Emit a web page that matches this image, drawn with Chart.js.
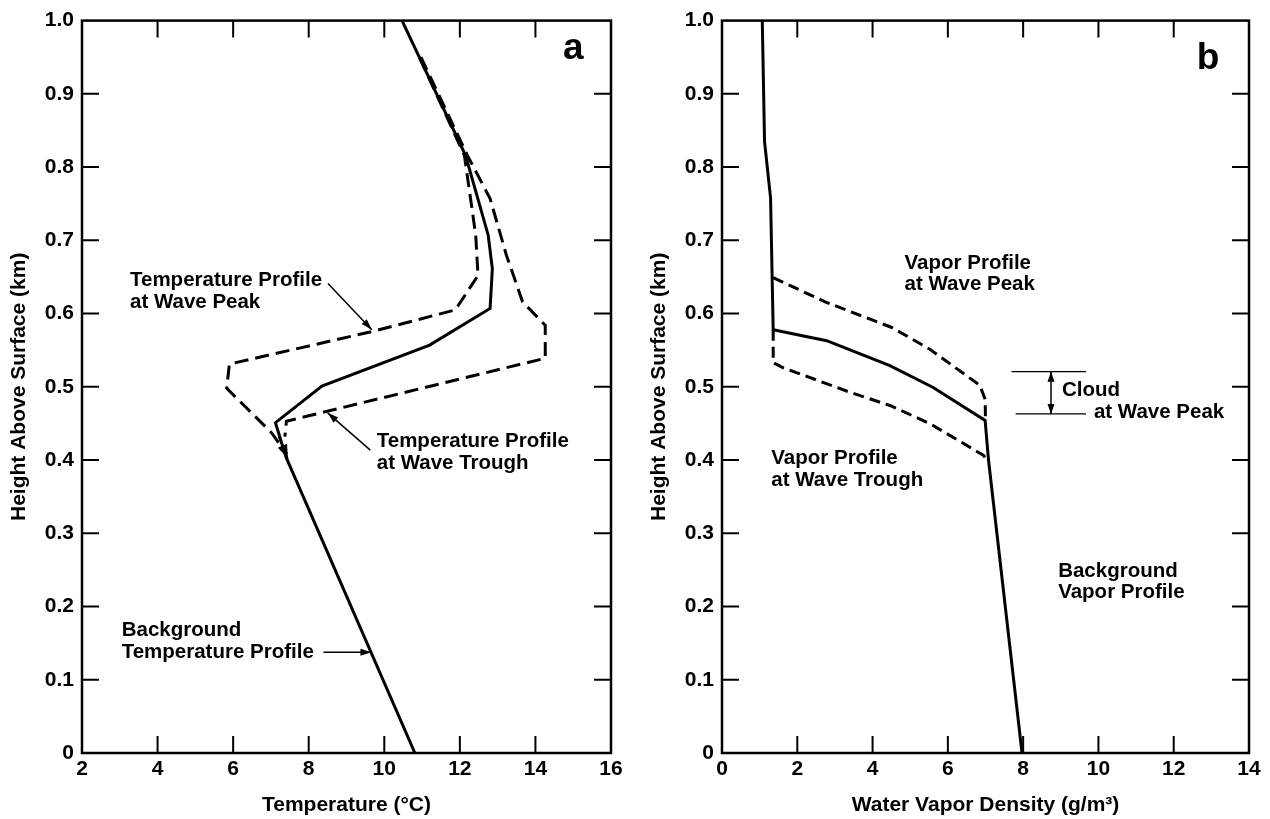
<!DOCTYPE html>
<html><head><meta charset="utf-8">
<script src="https://cdn.jsdelivr.net/npm/chart.js@4.4.1/dist/chart.umd.min.js"></script>
<style>
html,body{margin:0;padding:0;background:#fff;}
#wrap{position:relative;width:1270px;height:819px;overflow:hidden;}
.box{position:absolute;top:0;height:819px;}
</style></head><body>
<div id="wrap">
<div class="box" style="left:0;width:640px"><canvas id="cA" width="640" height="819"></canvas></div>
<div class="box" style="left:640px;width:630px"><canvas id="cB" width="630" height="819"></canvas></div>
</div>
<script>
// ---------- Panel a: temperature (°C) vs height (km) ----------
const tempTicksX = [2, 4, 6, 8, 10, 12, 14, 16];
const heightTicks = [0, 0.1, 0.2, 0.3, 0.4, 0.5, 0.6, 0.7, 0.8, 0.9, 1.0];

const tempSolid     = [10.81, 7.40, 7.12, 8.35, 11.2, 12.8, 12.86, 12.75, 12.15, 10.47];
const heightSolidA  = [0, 0.404, 0.451, 0.501, 0.557, 0.607, 0.661, 0.707, 0.816, 1.0];

const tempPeak      = [10.93, 12.12, 12.42, 12.48, 11.88, 9.72, 5.9, 5.83, 6.62, 7.02, 7.42];
const heightPeakA   = [0.95, 0.816, 0.707, 0.652, 0.605, 0.576, 0.531, 0.498, 0.4576, 0.437, 0.408];

const tempTrough    = [10.97, 12.2, 12.8, 13.23, 13.66, 14.26, 14.26, 7.41, 7.37];
const heightTroughA = [0.95, 0.816, 0.757, 0.68, 0.616, 0.584, 0.539, 0.453, 0.432];

// ---------- Panel b: water vapor density (g/m3) vs height (km) ----------
const vaporTicksX = [0, 2, 4, 6, 8, 10, 12, 14];

const vaporSolid    = [7.97, 7.08, 6.99, 5.61, 4.46, 2.78, 1.36, 1.29, 1.13, 1.07];
const heightSolidB  = [0, 0.40, 0.454, 0.499, 0.529, 0.563, 0.578, 0.758, 0.835, 1.0];

const vaporPeak     = [1.36, 2.74, 4.51, 5.53, 6.85, 6.99, 7.0];
const heightPeakB   = [0.649, 0.616, 0.581, 0.551, 0.502, 0.483, 0.455];

const vaporTrough   = [1.36, 1.36, 1.63, 3.4, 4.46, 5.53, 6.94, 7.05];
const heightTroughB = [0.578, 0.533, 0.526, 0.4925, 0.4745, 0.4495, 0.4067, 0.40];

const cloudTop = 0.5206, cloudBase = 0.463;

// ---------- helpers ----------
const FONT = '"Liberation Sans", Arial, Helvetica, sans-serif';
const pts = (xs, ys) => xs.map((v, i) => ({x: v, y: ys[i]}));
const yLabel = v => (Math.abs(v) < 1e-9 ? '0' : Number(v).toFixed(1));

function arrowHead(ctx, x1, y1, x2, y2, len, wid) {
  const ang = Math.atan2(y2 - y1, x2 - x1);
  ctx.beginPath();
  ctx.moveTo(x2, y2);
  ctx.lineTo(x2 - len * Math.cos(ang) + wid * Math.sin(ang), y2 - len * Math.sin(ang) - wid * Math.cos(ang));
  ctx.lineTo(x2 - len * Math.cos(ang) - wid * Math.sin(ang), y2 - len * Math.sin(ang) + wid * Math.cos(ang));
  ctx.closePath();
  ctx.fill();
}

const framePlugin = {
  id: 'frame',
  afterDatasetsDraw(chart, args, o) {
    const {ctx, chartArea: a, scales: {x, y}} = chart;
    const X = v => x.getPixelForValue(v), Y = v => y.getPixelForValue(v);
    ctx.save();
    ctx.strokeStyle = '#000'; ctx.fillStyle = '#000';
    // frame
    ctx.lineWidth = 2.5;
    ctx.strokeRect(a.left, a.top, a.right - a.left, a.bottom - a.top);
    // inward ticks on all four sides
    ctx.lineWidth = 2;
    const L = 17;
    ctx.beginPath();
    x.ticks.forEach(t => {
      if (t.value <= x.min || t.value >= x.max) return;
      const p = X(t.value);
      ctx.moveTo(p, a.bottom); ctx.lineTo(p, a.bottom - L);
      ctx.moveTo(p, a.top); ctx.lineTo(p, a.top + L);
    });
    y.ticks.forEach(t => {
      if (t.value <= y.min || t.value >= y.max) return;
      const p = Y(t.value);
      ctx.moveTo(a.left, p); ctx.lineTo(a.left + L, p);
      ctx.moveTo(a.right, p); ctx.lineTo(a.right - L, p);
    });
    ctx.stroke();
    // panel letter
    ctx.font = 'bold 37px ' + FONT;
    ctx.textAlign = 'center'; ctx.textBaseline = 'alphabetic';
    ctx.fillText(o.letter.t, X(o.letter.x), Y(o.letter.y));
    // text labels
    ctx.font = 'bold 20.5px ' + FONT;
    ctx.textAlign = 'left'; ctx.textBaseline = 'middle';
    (o.texts || []).forEach(t => ctx.fillText(t.t, X(t.x), Y(t.y)));
    // arrows
    ctx.lineWidth = 1.5;
    (o.arrows || []).forEach(r => {
      const x1 = X(r.from[0]), y1 = Y(r.from[1]), x2 = X(r.to[0]), y2 = Y(r.to[1]);
      ctx.beginPath(); ctx.moveTo(x1, y1); ctx.lineTo(x2, y2); ctx.stroke();
      arrowHead(ctx, x1, y1, x2, y2, r.len || 11, r.wid || 3.5);
      if (r.both) arrowHead(ctx, x2, y2, x1, y1, r.len || 11, r.wid || 3.5);
    });
    // thin level lines
    ctx.lineWidth = 1.3;
    (o.levels || []).forEach(l => {
      ctx.beginPath(); ctx.moveTo(X(l.x0), Y(l.y)); ctx.lineTo(X(l.x1), Y(l.y)); ctx.stroke();
    });
    ctx.restore();
  }
};

function makeChart(id, xMin, xMax, xTitle, ds, padRight, padTop, anno) {
  const tickFont = {family: FONT, size: 21, weight: 'bold'};
  const titleFont = {family: FONT, size: 21, weight: 'bold'};
  return new Chart(document.getElementById(id), {
    type: 'scatter',
    data: {datasets: ds},
    options: {
      responsive: false, animation: false, devicePixelRatio: 1,
      layout: {padding: {left: 0, right: padRight, top: padTop, bottom: 0}},
      plugins: {legend: {display: false}, tooltip: {enabled: false}, frame: anno},
      scales: {
        x: {
          type: 'linear', min: xMin, max: xMax,
          ticks: {stepSize: 2, color: '#000', font: tickFont, padding: 4, maxRotation: 0},
          grid: {display: false, drawTicks: false}, border: {display: false},
          title: {display: true, text: xTitle, color: '#000', font: titleFont, padding: {top: 0, bottom: 1}},
          afterFit: s => { s.height = 66; }
        },
        y: {
          type: 'linear', min: 0, max: 1,
          ticks: {stepSize: 0.1, color: '#000', font: tickFont, padding: 8, callback: yLabel},
          grid: {display: false, drawTicks: false}, border: {display: false},
          title: {display: true, text: 'Height Above Surface (km)', color: '#000', font: titleFont, padding: {top: 7, bottom: 0}},
          afterFit: s => { s.width = 82; }
        }
      }
    },
    plugins: [framePlugin]
  });
}

const solid = (d) => ({data: d, showLine: true, borderColor: '#000', borderWidth: 3, pointRadius: 0, fill: false, tension: 0});
const dashed = (d, dash) => ({data: d, showLine: true, borderColor: '#000', borderWidth: 3, borderDash: dash, pointRadius: 0, fill: false, tension: 0});

makeChart('cA', tempTicksX[0], tempTicksX[tempTicksX.length - 1], 'Temperature (°C)', [
  solid(pts(tempSolid, heightSolidA)),
  dashed(pts(tempPeak, heightPeakA), [14, 7]),
  dashed(pts(tempTrough, heightTroughA), [14, 7])
], 29, 18, {
  letter: {t: 'a', x: 15.0, y: 0.947},
  texts: [
    {t: 'Temperature Profile', x: 3.27, y: 0.645},
    {t: 'at Wave Peak', x: 3.27, y: 0.615},
    {t: 'Temperature Profile', x: 9.80, y: 0.426},
    {t: 'at Wave Trough', x: 9.80, y: 0.396},
    {t: 'Background', x: 3.05, y: 0.167},
    {t: 'Temperature Profile', x: 3.05, y: 0.138}
  ],
  arrows: [
    {from: [8.51, 0.641], to: [9.67, 0.578]},
    {from: [9.63, 0.4136], to: [8.50, 0.4644]},
    {from: [8.39, 0.1375], to: [9.66, 0.1375]},
    {from: [7.2, 0.432], to: [7.45, 0.402], len: 14, wid: 5}
  ]
});

makeChart('cB', vaporTicksX[0], vaporTicksX[vaporTicksX.length - 1], 'Water Vapor Density (g/m³)', [
  solid(pts(vaporSolid, heightSolidB)),
  dashed(pts(vaporPeak, heightPeakB), [11, 6]),
  dashed(pts(vaporTrough, heightTroughB), [11, 6])
], 21, 15, {
  letter: {t: 'b', x: 12.91, y: 0.9335},
  texts: [
    {t: 'Vapor Profile', x: 4.85, y: 0.669},
    {t: 'at Wave Peak', x: 4.85, y: 0.6395},
    {t: 'Cloud', x: 9.03, y: 0.495},
    {t: 'at Wave Peak', x: 9.88, y: 0.4645},
    {t: 'Vapor Profile', x: 1.31, y: 0.402},
    {t: 'at Wave Trough', x: 1.31, y: 0.3727},
    {t: 'Background', x: 8.93, y: 0.248},
    {t: 'Vapor Profile', x: 8.93, y: 0.219}
  ],
  arrows: [
    {from: [8.74, cloudTop], to: [8.74, cloudBase], both: true, len: 10, wid: 3.5}
  ],
  levels: [
    {x0: 7.69, x1: 9.67, y: cloudTop},
    {x0: 7.8, x1: 9.67, y: cloudBase}
  ]
});
</script>
</body></html>
